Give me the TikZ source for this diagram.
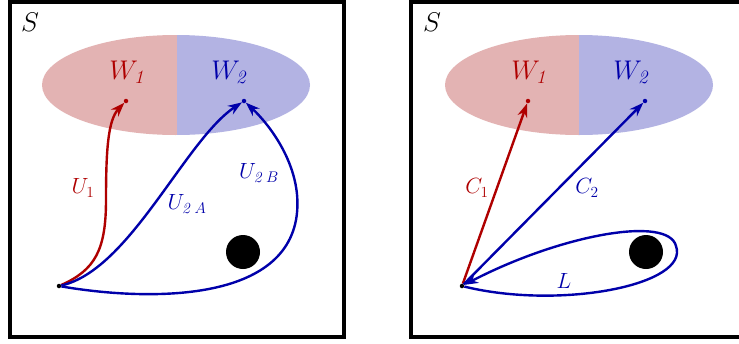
\RequirePackage{fix-cm}
\documentclass[tikz,border=0pt]{standalone}
\usetikzlibrary{arrows.meta}
\definecolor{myred}{RGB}{175,0,0}
\definecolor{myblue}{RGB}{0,0,170}
\definecolor{pinkfill}{RGB}{227,179,179}
\definecolor{bluefill}{RGB}{179,179,227}
\begin{document}
\begin{tikzpicture}[x=1pt,y=-1pt,
  frame/.style={draw=black,line width=4pt},
  dotnode/.style={circle,fill=black,inner sep=0pt,minimum size=4.5pt},
  obst/.style={circle,fill=black,inner sep=0pt,minimum size=34pt},
  arr/.style={line width=2.4pt,-{Stealth[length=14pt,width=10pt]}},
  biglabel/.style={font=\fontsize{27}{32}\selectfont},
  lab/.style={font=\fontsize{22}{26}\selectfont},
]
\useasboundingbox (0,0) rectangle (739,343);
\clip (0,0) rectangle (739,343);
\fill[white] (0,0) rectangle (739,343);

% ---------- left panel ----------
\begin{scope}
  \clip (176,85) ellipse [x radius=134, y radius=50];
  \fill[pinkfill] (40,30) rectangle (177,140);
  \fill[bluefill] (177,30) rectangle (312,140);
\end{scope}
\draw[frame] (9.5,1.5) rectangle (344,337);
\node[biglabel] (S1) at (30,22) {$S$};
\node[biglabel,text=myred] (W1a) at (128,72) {$W_{\mathit{1}}$};
\node[biglabel,text=myblue] (W2a) at (230,72) {$W_{\mathit{2}}$};

\node[dotnode] (srcA) at (59,286) {};
\node[dotnode,fill=myred] (w1A) at (126,101) {};
\node[dotnode,fill=myblue] (w2A) at (244,101) {};
\node[obst] (diskA) at (243,252) {};

\draw[arr,myred] (srcA) .. controls (95,270) and (106,250) .. (106,200)
  .. controls (106,150) and (108,120) .. (w1A);
\draw[arr,myblue] (srcA) .. controls (130,270) and (185,140) .. (w2A);
\draw[arr,myblue] (srcA) .. controls (140,300) and (280,305) .. (296,220)
  .. controls (305,170) and (270,125) .. (w2A);

\node[lab,text=myred] (U1) at (83,188) {$U_1$};
\node[lab,text=myblue] (U2A) at (187,204) {$U_{\mathit{2}\,A}$};
\node[lab,text=myblue] (U2B) at (259,173) {$U_{\mathit{2}\,B}$};

% ---------- right panel ----------
\begin{scope}
  \clip (579,85) ellipse [x radius=134, y radius=50];
  \fill[pinkfill] (440,30) rectangle (579,140);
  \fill[bluefill] (579,30) rectangle (716,140);
\end{scope}
\draw[frame] (411,1.5) rectangle (745,337);
\node[biglabel] (S2) at (432,22) {$S$};
\node[biglabel,text=myred] (W1b) at (530,72) {$W_{\mathit{1}}$};
\node[biglabel,text=myblue] (W2b) at (632,72) {$W_{\mathit{2}}$};

\node[dotnode] (srcB) at (462,286) {};
\node[dotnode,fill=myred] (w1B) at (528,101) {};
\node[dotnode,fill=myblue] (w2B) at (645,101) {};
\node[obst] (diskB) at (646,252) {};

\draw[arr,myred] (srcB) -- (w1B);
\draw[arr,myblue] (srcB) -- (w2B);
\draw[arr,myblue] (srcB) .. controls (560,310) and (690,285) .. (676,246)
  .. controls (668,215) and (560,235) .. (srcB);

\node[lab,text=myred] (C1) at (477,188) {$C_1$};
\node[lab,text=myblue] (C2) at (587,188) {$C_2$};
\node[lab,text=myblue] (L) at (564,281) {$L$};
\end{tikzpicture}
\end{document}
